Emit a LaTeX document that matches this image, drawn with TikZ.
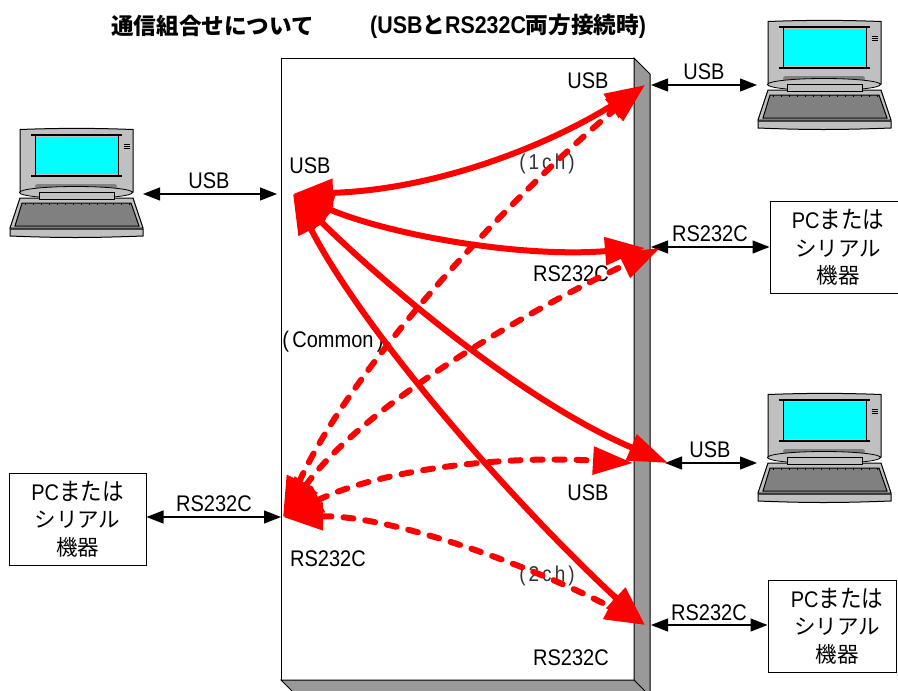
\documentclass[tikz,border=0pt]{standalone}
\usepackage{fontspec}
\usepackage{graphicx}
\setmainfont{Liberation Sans}
\newfontfamily\cjk{Noto Sans CJK JP}
\newfontfamily\cjkb{Noto Sans CJK JP Bold}
\newfontfamily\spacedlatin[LetterSpace=16]{Liberation Sans}
\usetikzlibrary{arrows.meta}
\definecolor{lapgray}{HTML}{C0C0C0}
\definecolor{keygray}{HTML}{808080}
\definecolor{sidegray}{HTML}{999999}
\definecolor{screencyan}{HTML}{00FFFF}
\newcommand\tall[1]{\scalebox{1}[1.13]{#1}}
\newcommand\jp[1]{{\fontsize{21.5}{27.5}\selectfont\cjk #1}}
\newcommand\jpb[1]{{\fontsize{22.6}{24}\selectfont\cjkb #1}}
\newcommand\pcdevice[1]{\hspace*{#1}\tall{PC\jp{または}}\\\hspace*{#1}\jp{シリアル}\\\hspace*{#1}\jp{機器}}
\tikzset{
  x=1pt,y=-1pt,
  lbl/.style={inner sep=0pt,yshift=-1pt,font=\fontsize{20}{24}\selectfont},
  lblthin/.style={inner sep=0pt,yshift=-1pt,text=black!80,font=\fontsize{19}{24}\selectfont},
  ttl/.style={inner sep=0pt,anchor=west,font=\fontsize{21.4}{24}\selectfont\bfseries},
  devbox/.style={draw=black,line width=1pt,fill=white,inner sep=0pt,align=center,font=\fontsize{20}{27.5}\selectfont},
  thinlink/.style={line width=1.3pt,{Triangle[length=17pt,width=13pt]}-{Triangle[length=17pt,width=13pt]}},
  solidlink/.style={draw=red,line width=6pt,{Triangle[length=40pt,width=27pt]}-{Triangle[length=40pt,width=27pt]}},
  dashlink/.style={solidlink,dash pattern=on 10pt off 12pt,line cap=round},
  pics/laptop/.style={code={
    \draw[line width=1pt,fill=lapgray] (0,0.5) .. controls (40,-1) and (73,-1) .. (113,0.5) -- (113,63) -- (0,63) -- cycle;
    \fill[screencyan] (15,8) rectangle (98,45);
    \draw[line width=1.6pt] (11,6) -- (102,6);
    \draw[line width=1.6pt] (11,47) -- (102,47);
    \draw[line width=.8pt] (15,7) -- (15,46) (98,7) -- (98,46);
    \draw[line width=.7pt] (103.5,15) -- (110,15) (103.5,17) -- (110,17) (103.5,19) -- (110,19);
    \fill[keygray,rounded corners=2.5pt] (15,55) rectangle (97,60);
    \draw[line width=.8pt,fill=lapgray] (56,63.5) ellipse [x radius=56.5,y radius=6];
    \draw[line width=1pt,fill=lapgray] (0,69) -- (113,69) -- (123,99) -- (-10,99) -- cycle;
    \draw[line width=1pt,fill=keygray] (2,74) -- (111,74) -- (119,97) -- (-5,97) -- cycle;
    \foreach \t in {5,13,...,109} {\draw[line width=.5pt] (\t,74) -- (\t,76);}
    \draw[line width=1pt,fill=lapgray] (19,63) rectangle (94,70);
    \draw[line width=1pt,fill=lapgray] (-10,100) -- (123,100) -- (123,107) .. controls (70,109) and (40,109) .. (-10,107) -- cycle;
  }}
}
\begin{document}
\begin{tikzpicture}
\clip (0,0) rectangle (898,691);
% enclosure
\draw[line width=1pt,fill=white] (281,58) rectangle (634,680);
\draw[line width=1pt,fill=sidegray] (634,58) -- (650,74) -- (650,700) -- (634,680) -- cycle;
\draw[line width=1pt,fill=sidegray] (281,680) -- (634,680) -- (650,696) -- (297,696) -- cycle;
% laptops
\pic at (20,129) {laptop};
\pic at (768,21) {laptop};
\pic at (768,394) {laptop};
% title
\node[ttl] (t1) at (111,26) {\jpb{通信組合せについて}};
\node[ttl] (t2) at (370,26) {\tall{(USB}\jpb{と}\tall{RS232C}\jpb{両方接続時}\tall{)}};
% labels below the red arrows
\node[lbl] (l6) at (571,273) {\tall{RS232C}};
\node[lblthin] (l1c) at (547,163) {\tall{\spacedlatin (1ch)}};
\node[lblthin] (l2c) at (547,575) {\tall{\spacedlatin (2ch)}};
\node[lbl] (l7) at (333,341) {\tall{(\,Common\,)}};
\node[lbl] (l8) at (588,80) {\tall{USB}};
\node[lbl] (l9) at (310,165) {\tall{USB}};
\node[lbl] (l10) at (588,492) {\tall{USB}};
\node[lbl] (l11) at (328,558) {\tall{RS232C}};
\node[lbl] (l12) at (571,657) {\tall{RS232C}};
% devices
\node[devbox,minimum width=136pt,minimum height=92pt] (pc1) at (838,247.5) {\pcdevice{0pt}};
\node[devbox,minimum width=128pt,minimum height=92pt] (pc2) at (832,626) {\pcdevice{10pt}};
\node[devbox,minimum width=137pt,minimum height=92pt] (pc3) at (77.5,519) {\pcdevice{0pt}};
% end points
\coordinate (lapL) at (143,194);
\coordinate (portL) at (277,194);
\coordinate (portU1) at (651,85);
\coordinate (lapU1) at (757,85);
\coordinate (portR1) at (651,247);
\coordinate (portU2) at (665,463);
\coordinate (lapU2) at (757,463);
\coordinate (portR2) at (651,625);
\coordinate (portS) at (281,517);
\coordinate (u) at (293,194);
\coordinate (s) at (283,517);
\coordinate (a1) at (645,85);
\coordinate (a2) at (645,248);
\coordinate (a2d) at (660,248);
\coordinate (a3) at (668,463);
\coordinate (a3d) at (633,463);
\coordinate (a4) at (645,625);
% thin links
\draw[thinlink] (lapL) -- (portL);
\draw[thinlink] (portU1) -- (lapU1);
\draw[thinlink] (portR1) -- (pc1.west |- portR1);
\draw[thinlink] (portU2) -- (lapU2);
\draw[thinlink] (portR2) -- (pc2.west |- portR2);
\draw[thinlink] (pc3.east |- portS) -- (portS);
\node[lbl] (b1) at (209,180) {\tall{USB}};
\node[lbl] (b2) at (704,71) {\tall{USB}};
\node[lbl] (b3) at (710,233) {\tall{RS232C}};
\node[lbl] (b4) at (710,449) {\tall{USB}};
\node[lbl] (b5) at (709,612) {\tall{RS232C}};
\node[lbl] (b6) at (214,503) {\tall{RS232C}};
% red links
\draw[dashlink] (s) .. controls (360,350) and (535,175) .. (a1);
\draw[dashlink] (s) .. controls (360,410) and (510,320) .. (a2d);
\draw[dashlink] (s) .. controls (380,470) and (500,455) .. (a3d);
\draw[dashlink] (s) .. controls (390,515) and (530,565) .. (a4);
\draw[solidlink] (u) .. controls (430,190) and (540,150) .. (a1);
\draw[solidlink] (u) .. controls (390,235) and (520,258) .. (a2);
\draw[solidlink] (u) .. controls (380,280) and (520,400) .. (a3);
\draw[solidlink] (u) .. controls (360,325) and (500,490) .. (a4);
\end{tikzpicture}
\end{document}
